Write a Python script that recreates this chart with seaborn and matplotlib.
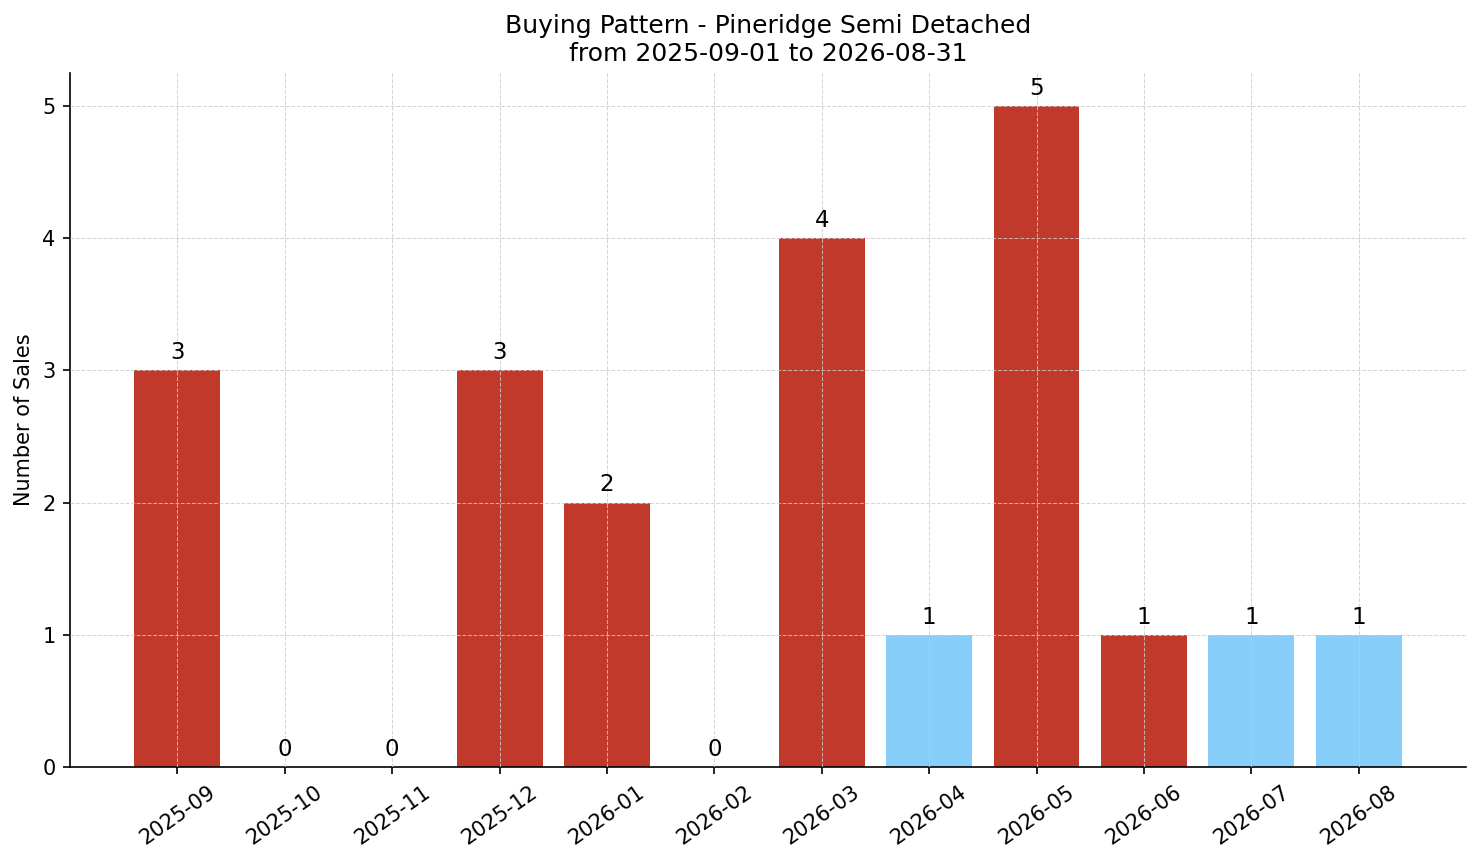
import matplotlib
matplotlib.use("Agg")
import matplotlib.pyplot as plt
import seaborn as sns
import pandas as pd

# data
months = ["2025-09", "2025-10", "2025-11", "2025-12", "2026-01", "2026-02",
          "2026-03", "2026-04", "2026-05", "2026-06", "2026-07", "2026-08"]
sales = [3, 0, 0, 3, 2, 0, 4, 1, 5, 1, 1, 1]
bar_colors = ["#C0392B", "#C0392B", "#C0392B", "#C0392B", "#C0392B", "#C0392B",
              "#C0392B", "#87CEFA", "#C0392B", "#C0392B", "#87CEFA", "#87CEFA"]

df = pd.DataFrame({"month": months, "sales": sales})

plt.rcParams["font.family"] = ["DejaVu Sans"]

fig, ax = plt.subplots(figsize=(1481 / 150, 863 / 150), dpi=150)
fig.subplots_adjust(left=0.0473, right=0.9899, top=0.9154, bottom=0.1112)

sns.barplot(data=df, x="month", y="sales", hue="month", palette=bar_colors,
            legend=False, width=0.8, saturation=1, linewidth=0, ax=ax)

for cont in ax.containers:
    ax.bar_label(cont, padding=3, fontsize=11)

ax.set_xlim(-1, 12)
ax.set_ylim(0, 5.25)
ax.set_yticks(range(0, 6))
ax.tick_params(axis="x", labelrotation=35, labelsize=10)
ax.tick_params(axis="y", labelsize=10)
ax.set_xlabel("")
ax.set_ylabel("Number of Sales", fontsize=10)
ax.set_title("Buying Pattern - Pineridge Semi Detached\nfrom 2025-09-01 to 2026-08-31",
             fontsize=12)

ax.set_axisbelow(False)
ax.grid(True, linestyle="--", linewidth=0.5, color="#cccccc", alpha=0.8)
sns.despine(ax=ax)

fig.savefig("out.png", dpi=150)
